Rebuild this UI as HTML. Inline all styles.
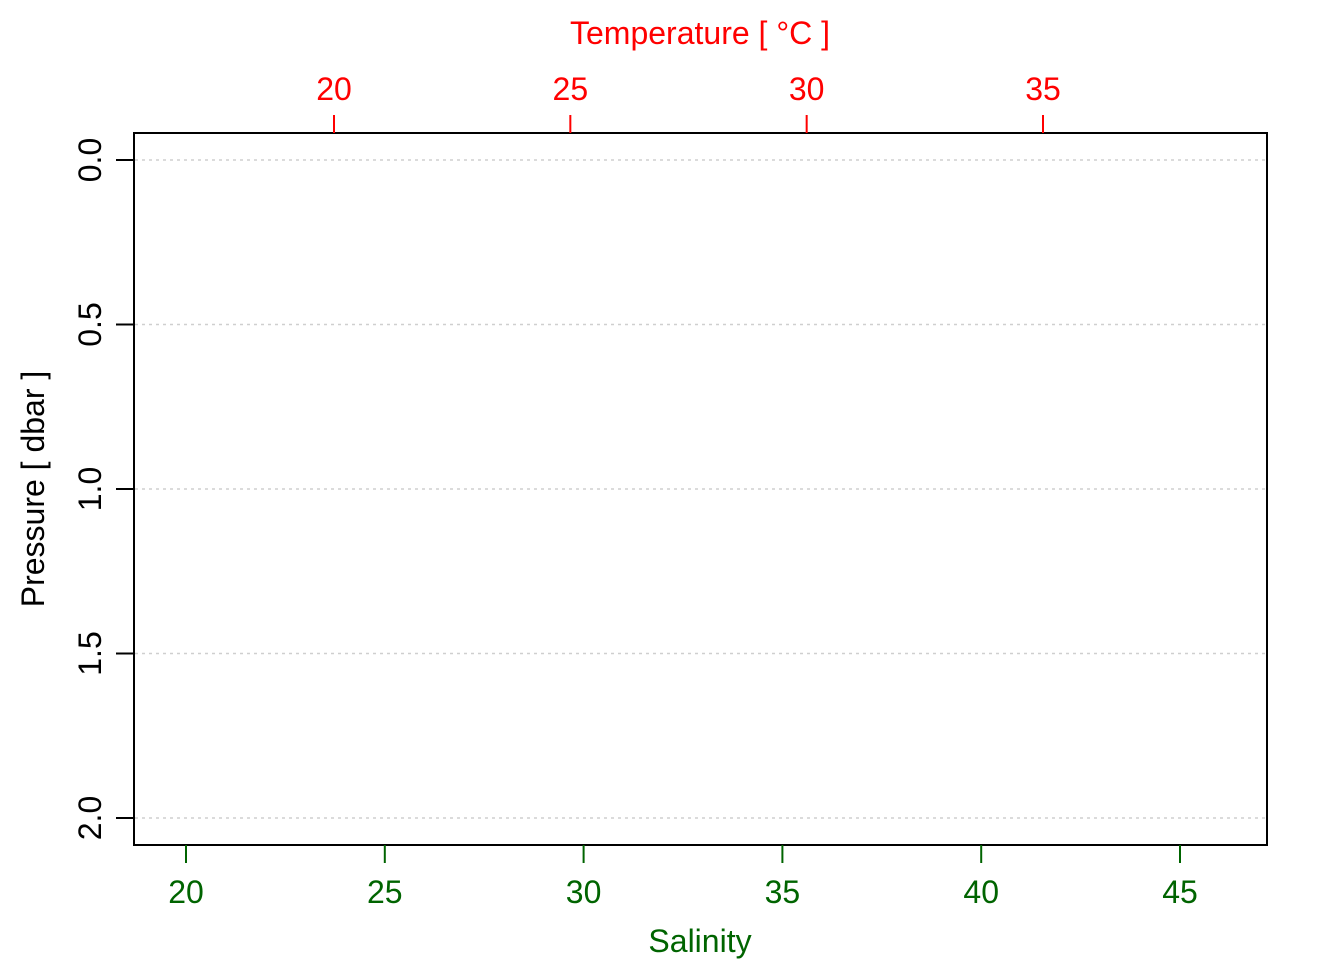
<!DOCTYPE html>
<html><head><meta charset="utf-8">
<style>
html,body{margin:0;padding:0;background:#fff;}
svg{display:block;font-family:"Liberation Sans",Arial,sans-serif;}
</style></head>
<body>
<svg id="chart" width="1344" height="960" viewBox="0 0 1344 960" xmlns="http://www.w3.org/2000/svg">
<rect x="134" y="133" width="1133" height="712" fill="none" stroke="#000" stroke-width="2"/>
<text x="700" y="44" fill="#ff0000" font-size="32" text-anchor="middle">Temperature [ °C ]</text>
<text x="700" y="952" fill="#006400" font-size="32" text-anchor="middle">Salinity</text>
<text transform="translate(44,489) rotate(-90)" fill="#000" font-size="32" text-anchor="middle">Pressure [ dbar ]</text>
<g id="g"></g>
</svg>
<script>
const tempTicks = [20, 25, 30, 35];
const salTicks = [20, 25, 30, 35, 40, 45];
const presTicks = [0.0, 0.5, 1.0, 1.5, 2.0];
const presLabels = ["0.0", "0.5", "1.0", "1.5", "2.0"];

const xT = v => 334 + (v - 20) * (1043 - 334) / 15;
const xS = v => 186 + (v - 20) * (1180 - 186) / 25;
const yP = v => 160 + v * (818 - 160) / 2;

const NS = "http://www.w3.org/2000/svg";
const g = document.getElementById("g");
function mk(tag, attrs, text) {
  const e = document.createElementNS(NS, tag);
  for (const k in attrs) e.setAttribute(k, attrs[k]);
  if (text !== undefined) e.textContent = text;
  g.appendChild(e);
  return e;
}

presTicks.forEach((v, i) => {
  const y = yP(v);
  const gl = mk("line", {x1: 135, x2: 1266, y1: y, y2: y, stroke: "#cfcfcf", "stroke-width": 1.5, "stroke-dasharray": "3,4"});
  
  
  const t = mk("line", {x1: 116, x2: 134, y1: y, y2: y, stroke: "#000", "stroke-width": 2});
  
  
  const l = mk("text", {transform: `translate(101,${y}) rotate(-90)`, "font-size": 32, "text-anchor": "middle", fill: "#000"}, presLabels[i]);
  
  
});

tempTicks.forEach(v => {
  const x = xT(v);
  const t = mk("line", {x1: x, x2: x, y1: 115, y2: 133, stroke: "#ff0000", "stroke-width": 2});
  
  
  const l = mk("text", {x: x, y: 100, "font-size": 32, "text-anchor": "middle", fill: "#ff0000"}, String(v));
  
  
});

salTicks.forEach(v => {
  const x = xS(v);
  const t = mk("line", {x1: x, x2: x, y1: 845, y2: 863, stroke: "#006400", "stroke-width": 2});
  
  
  const l = mk("text", {x: x, y: 903, "font-size": 32, "text-anchor": "middle", fill: "#006400"}, String(v));
  
  
});
</script>
</body></html>
